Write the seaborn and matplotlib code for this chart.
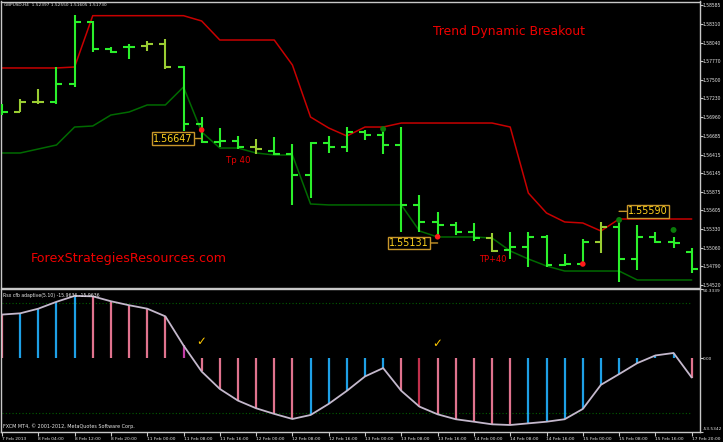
import numpy as np
import pandas as pd
import matplotlib
matplotlib.use("Agg")
import matplotlib.pyplot as plt
import seaborn as sns
from matplotlib import font_manager

W, H = 723, 442

# ---------------- data ----------------
symbol_header = "GBPUSD,H4  1.52397 1.52550 1.51605 1.51730"
indicator_header = "Rsx cfb adaptive(5.10) -15.9636 -15.9636"
copyright_text = "FXCM MT4, \u00a9 2001-2012, MetaQuotes Software Corp."

time_labels = ["7 Feb 2013", "8 Feb 04:00", "8 Feb 12:00", "8 Feb 20:00", "11 Feb 00:00",
               "11 Feb 08:00", "11 Feb 16:00", "12 Feb 00:00", "12 Feb 08:00", "12 Feb 16:00",
               "13 Feb 00:00", "13 Feb 08:00", "13 Feb 16:00", "14 Feb 00:00", "14 Feb 08:00",
               "14 Feb 16:00", "15 Feb 00:00", "15 Feb 08:00", "15 Feb 16:00", "17 Feb 20:00"]
time_label_bars = list(range(0, 39, 2))

opens = [1.57090, 1.57032, 1.57177, 1.57177, 1.57438, 1.58338, 1.57946, 1.57975, 1.57990, 1.58019,
         1.57685, 1.56858, 1.56597, 1.56611, 1.56524, 1.56466, 1.56422, 1.56118, 1.56582, 1.56524,
         1.56742, 1.56698, 1.56553, 1.55683, 1.55436, 1.55392, 1.55290, 1.55203, 1.55029, 1.55073,
         1.55218, 1.54812, 1.54826, 1.55145, 1.55363, 1.54899, 1.55218, 1.55145, 1.55000]
highs = [1.57148, 1.57221, 1.57366, 1.57685, 1.58440, 1.58353, 1.57975, 1.58019, 1.58062, 1.58092,
         1.57700, 1.56959, 1.56800, 1.56684, 1.56640, 1.56669, 1.56568, 1.56597, 1.56684, 1.56814,
         1.56771, 1.56814, 1.56814, 1.55827, 1.55581, 1.55436, 1.55421, 1.55276, 1.55290, 1.55290,
         1.55247, 1.54971, 1.55189, 1.55436, 1.55465, 1.55392, 1.55290, 1.55218, 1.55058]
lows = [1.56988, 1.57025, 1.57148, 1.57148, 1.57395, 1.57903, 1.57888, 1.57801, 1.57917, 1.57656,
        1.56756, 1.56582, 1.56524, 1.56495, 1.56422, 1.56408, 1.55683, 1.55784, 1.56437, 1.56451,
        1.56626, 1.56422, 1.55290, 1.55290, 1.55232, 1.55247, 1.55160, 1.55000, 1.54899, 1.54783,
        1.54783, 1.54797, 1.54812, 1.54986, 1.54565, 1.54739, 1.55131, 1.55058, 1.54696]
closes = [1.57032, 1.57177, 1.57170, 1.57438, 1.58338, 1.57946, 1.57903, 1.57975, 1.58019, 1.57685,
          1.56858, 1.56597, 1.56611, 1.56524, 1.56495, 1.56422, 1.56118, 1.56582, 1.56524, 1.56742,
          1.56698, 1.56553, 1.55683, 1.55436, 1.55392, 1.55290, 1.55203, 1.55015, 1.55073, 1.55218,
          1.54812, 1.54826, 1.55145, 1.55363, 1.54899, 1.55218, 1.55145, 1.55131, 1.54754]
olive_bars = [1, 2, 8, 9, 14, 27, 33]

upper_band = [1.57671, 1.57671, 1.57671, 1.57671, 1.57685, 1.58430, 1.58430, 1.58430, 1.58430, 1.58430,
              1.58430, 1.58353, 1.58077, 1.58077, 1.58077, 1.58077, 1.57714, 1.56959, 1.56800, 1.56684,
              1.56814, 1.56814, 1.56872, 1.56872, 1.56872, 1.56872, 1.56872, 1.56872, 1.56814, 1.55856,
              1.55566, 1.55436, 1.55421, 1.55305, 1.55479, 1.55479, 1.55479, 1.55479, 1.55479]
lower_band = [1.56437, 1.56437, 1.56495, 1.56553, 1.56814, 1.56829, 1.56988, 1.57032, 1.57134, 1.57134,
              1.57395, 1.56742, 1.56509, 1.56509, 1.56437, 1.56408, 1.56408, 1.55697, 1.55683, 1.55683,
              1.55683, 1.55683, 1.55683, 1.55305, 1.55218, 1.55218, 1.55218, 1.55203, 1.55015, 1.54899,
              1.54797, 1.54724, 1.54724, 1.54724, 1.54724, 1.54594, 1.54594, 1.54594, 1.54594]

sell_bars = [11, 24, 32]
sell_prices = [1.56771, 1.55221, 1.54826]
buy_bars = [21, 34, 37]
buy_prices = [1.56785, 1.55465, 1.55320]

label_bars = [11, 24, 34]
label_prices = [1.56647, 1.55131, 1.55590]
label_sides = ["left", "left", "right"]

price_ticks = [1.58585, 1.58310, 1.58040, 1.57770, 1.57500, 1.57230, 1.56960, 1.56685,
               1.56415, 1.56145, 1.55875, 1.55605, 1.55330, 1.55060, 1.54790, 1.54520]

rsx = [31.7, 32.6, 36.0, 41.0, 45.3, 45.0, 41.4, 38.5, 36.0, 30.4,
       9.2, -9.8, -22.5, -31.0, -36.6, -40.7, -44.4, -41.5, -33.4, -23.9,
       -13.4, -7.3, -23.9, -35.4, -41.0, -44.6, -46.4, -48.3, -48.8, -47.6,
       -46.4, -44.6, -37.1, -19.5, -11.7, -3.7, 1.9, 3.7, -14.2]
rsx_special = {10: "#c23ca6", 23: "#c0304c"}
rsx_levels = [40, -40]
rsx_max, rsx_min = 50.3339, -53.5342
check_bars = [11, 24]
check_values = [11.9, 10.8]

# ---------------- style ----------------
sns.set_theme(style="dark", rc={"axes.facecolor": "black", "figure.facecolor": "black",
                                "axes.grid": False, "savefig.facecolor": "black"})


def pick(fams):
    for f in fams:
        try:
            font_manager.findfont(font_manager.FontProperties(family=f), fallback_to_default=False)
            return f
        except Exception:
            pass
    return None


NARROW = pick(["Liberation Sans Narrow"])
if NARROW is None:
    NARROW = "DejaVu Sans"
    nscale = 0.72
else:
    nscale = 1.0
plt.rcParams["font.family"] = ["DejaVu Sans"]

FG = "#c8c8c8"
TXT = "#e8e8e8"


def fx(px):
    return px / W


def fy(py):
    return 1 - py / H


fig = plt.figure(figsize=(W / 100, H / 100), dpi=100)

x0_px, dx_px = 2.0, 18.15
left_px, right_px = 1.0, 699.5
main_top, main_bot = 1.5, 287.5
low_top, low_bot = 289.0, 431.5

ax = fig.add_axes([fx(left_px), fy(main_bot), (right_px - left_px) / W, (main_bot - main_top) / H])
ax2 = fig.add_axes([fx(left_px), fy(low_bot), (right_px - left_px) / W, (low_bot - low_top) / H])

xlim = ((left_px - x0_px) / dx_px, (right_px - x0_px) / dx_px)


def price_at(py):
    return 1.58585 - 0.00014514 * (py - 5)


for a in (ax, ax2):
    a.set_facecolor("black")
    a.set_xlim(*xlim)
    for s in a.spines.values():
        s.set_color(FG)
        s.set_linewidth(1.0)
        s.set_visible(True)

ax.set_ylim(price_at(main_bot), price_at(main_top))
ax2.set_ylim(rsx_min, rsx_max)

idx = np.arange(len(opens))
df = pd.DataFrame({"bar": idx, "open": opens, "high": highs, "low": lows, "close": closes,
                   "upper": upper_band, "lower": lower_band, "rsx": rsx})

# bands
sns.lineplot(data=df, x="bar", y="upper", ax=ax, color="#c80000", linewidth=1.1, zorder=2)
sns.lineplot(data=df, x="bar", y="lower", ax=ax, color="#006a00", linewidth=1.1, zorder=2)

# OHLC bars
main_col, olive_col = "#2bf02b", "#9acd32"
cols = [olive_col if i in olive_bars else main_col for i in idx]
ax.vlines(idx, lows, highs, colors=cols, linewidth=1.5, zorder=3)
ax.hlines(opens, idx - 0.33, idx, colors=cols, linewidth=1.5, zorder=3)
ax.hlines(closes, idx, idx + 0.33, colors=cols, linewidth=1.5, zorder=3)

# signal dots
sns.scatterplot(x=sell_bars, y=sell_prices, ax=ax, color="#ff1a1a", s=16, edgecolor="none", zorder=5)
sns.scatterplot(x=buy_bars, y=buy_prices, ax=ax, color="#0a7a0a", s=18, edgecolor="none", zorder=5)

# price labels
for b, p, side in zip(label_bars, label_prices, label_sides):
    off = -9 if side == "left" else 9
    ax.annotate(f"{p:.5f}", xy=(b, p), xytext=(off, 0), textcoords="offset pixels",
                ha="right" if side == "left" else "left", va="center",
                color="#ffd21e", fontsize=9.6 * nscale, family=NARROW,
                bbox=dict(boxstyle="square,pad=0.12", fc="black", ec="#c8962a", lw=1.0),
                arrowprops=dict(arrowstyle="-", color="#c8962a", lw=1.0, shrinkA=0, shrinkB=0),
                zorder=6)

# red annotations
ax.text((226 - x0_px) / dx_px, price_at(160.5), "Tp 40", color="#e80000", fontsize=6.2,
        ha="left", va="center")
ax.text((479 - x0_px) / dx_px, price_at(259.5), "TP+40", color="#e80000", fontsize=6.0,
        ha="left", va="center")
fig.text(fx(433), fy(31.5), "Trend Dynamic Breakout", color="#f00000", fontsize=8.9,
         ha="left", va="center")
fig.text(fx(31), fy(258.5), "ForexStrategiesResources.com", color="#f00000", fontsize=9.1,
         ha="left", va="center")

# price axis
ax.yaxis.tick_right()
ax.set_yticks(price_ticks)
ax.set_yticklabels([f"{t:.5f}" for t in price_ticks])
ax.tick_params(axis="y", which="both", right=True, left=False, length=1.8, width=0.8, color=FG,
               pad=0.6, labelsize=4.55 * nscale, labelcolor=TXT)
for t in ax.get_yticklabels():
    t.set_family(NARROW)
ax.set_xticks([])
ax.set_xlabel("")
ax.set_ylabel("")

# lower panel
rsx_cols = []
for i, v in enumerate(rsx):
    rising = i > 0 and v > rsx[i - 1]
    rsx_cols.append(rsx_special.get(i, "#1ea0e6" if rising else "#e0738e"))
ax2.hlines(rsx_levels, idx[0], idx[-1], colors="#006000", linestyles=(0, (1, 2)), linewidth=0.8, zorder=1)
ax2.vlines(idx, 0, rsx, colors=rsx_cols, linewidth=1.6, zorder=2)
sns.lineplot(data=df, x="bar", y="rsx", ax=ax2, color="#c4b8cc", linewidth=1.3, zorder=3)
for b, v in zip(check_bars, check_values):
    ax2.text(b, v, "\u2713", color="#ffc800", fontsize=8.5, ha="center", va="center", fontweight="bold")

ax2.yaxis.tick_right()
ax2.set_yticks([rsx_max, 0, rsx_min])
ax2.set_yticklabels(["50.3339", "0.00", "-53.5342"])
ax2.tick_params(axis="y", right=True, left=False, length=1.8, width=0.8, color=FG, pad=0.6,
                labelsize=4.2 * nscale, labelcolor=TXT)
ylabs = ax2.get_yticklabels()
ylabs[0].set_verticalalignment("top")
ylabs[-1].set_verticalalignment("bottom")
ax2.set_xticks(time_label_bars)
ax2.set_xticklabels(time_labels, ha="left")
ax2.tick_params(axis="x", bottom=True, length=3, width=0.8, color=FG, pad=1.0,
                labelsize=4.4 * nscale, labelcolor=TXT)
for t in ax2.get_yticklabels() + ax2.get_xticklabels():
    t.set_family(NARROW)
ax2.set_xlabel("")
ax2.set_ylabel("")

# headers
fig.text(fx(4), fy(5.5), symbol_header, color=TXT, fontsize=4.3 * nscale, family=NARROW,
         ha="left", va="center")
fig.text(fx(3), fy(295), indicator_header, color=TXT, fontsize=4.6 * nscale, family=NARROW,
         ha="left", va="center")
fig.text(fx(3), fy(426), copyright_text, color=TXT, fontsize=4.9 * nscale, family=NARROW,
         ha="left", va="center")

fig.savefig("out.png", dpi=100, facecolor="black")
